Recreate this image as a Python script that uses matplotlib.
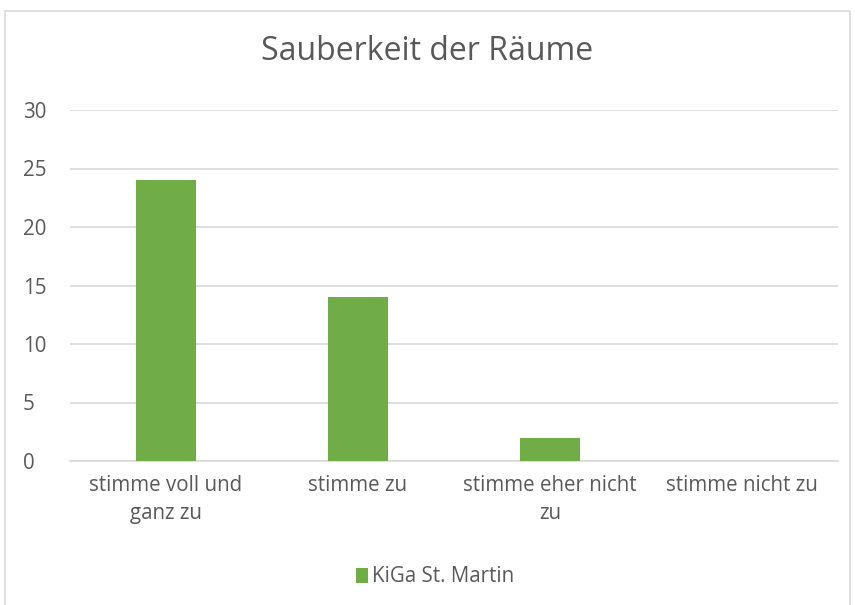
import matplotlib
matplotlib.use("Agg")
import matplotlib.pyplot as plt
from matplotlib.patches import Rectangle

categories = ["stimme voll und\nganz zu", "stimme zu", "stimme eher nicht\nzu", "stimme nicht zu"]
values = [24, 14, 2, 0]
series_name = "KiGa St. Martin"
yticks = [0, 5, 10, 15, 20, 25, 30]

green = "#70AD47"
text_col = "#595959"
grid_col = "#D9D9D9"

plt.rcParams["font.family"] = ["Open Sans", "DejaVu Sans"]

fig = plt.figure(figsize=(8.55, 6.05), dpi=100)
# chart frame like in Excel
fig.patches.append(Rectangle((5 / 855, -0.01), 845 / 855, 1 - 11 / 605 + 0.01,
                             transform=fig.transFigure, fill=False,
                             edgecolor=grid_col, linewidth=1.2))

ax = fig.add_axes([70 / 855, 1 - 461 / 605, 768 / 855, 351 / 605])
x = range(len(categories))
ax.bar(x, values, width=0.31, color=green, label=series_name, zorder=3)

ax.set_xlim(-0.5, len(categories) - 0.5)
ax.set_ylim(0, 30)
ax.set_yticks(yticks)
ax.set_xticks(list(x))
ax.set_xticklabels(categories, fontsize=14.8, color=text_col, linespacing=1.45)
ax.tick_params(axis="y", labelsize=14.8, colors=text_col, length=0, pad=34)
ax.tick_params(axis="x", length=0, pad=10)
for lbl in ax.get_yticklabels():
    lbl.set_horizontalalignment("left")
ax.grid(axis="y", color=grid_col, linewidth=1.2, zorder=0)
for side in ["top", "right", "left"]:
    ax.spines[side].set_visible(False)
ax.spines["bottom"].set_color(grid_col)
ax.spines["bottom"].set_linewidth(1.2)

fig.text(427 / 855, 1 - 52 / 605, "Sauberkeit der Räume", ha="center", va="center",
         fontsize=23, color=text_col)

fig.legend(loc="center", bbox_to_anchor=(435 / 855, 1 - 577 / 605), frameon=False,
           fontsize=14.8, labelcolor=text_col, handlelength=0.6, handleheight=0.7,
           handletextpad=0.2)

plt.savefig("out.png", dpi=100)
plt.close()
